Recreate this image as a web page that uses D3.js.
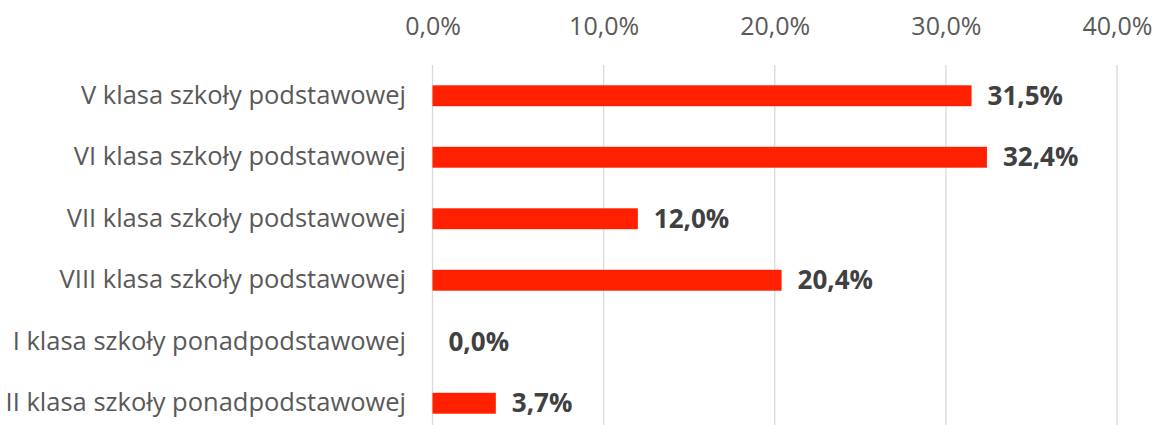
<!DOCTYPE html>
<html><head><meta charset="utf-8">
<script src="https://cdn.jsdelivr.net/npm/d3@7"></script>
<style>body{margin:0;background:#fff}</style>
</head><body>
<svg id="c" width="1155" height="425"></svg>
<script>
const categories = ["V klasa szkoły podstawowej","VI klasa szkoły podstawowej","VII klasa szkoły podstawowej","VIII klasa szkoły podstawowej","I klasa szkoły ponadpodstawowej","II klasa szkoły ponadpodstawowej"];
const values = [31.5, 32.4, 12.0, 20.4, 0.0, 3.7];
const ticks = [0, 10, 20, 30, 40];
const fmt = v => v.toFixed(1).replace(".", ",") + "%";

const svg = d3.select("#c");
const x = d3.scaleLinear().domain([0, 40]).range([432.5, 1117]);
const y = d3.scaleBand().domain(categories).range([65, 434]).paddingInner(0.66).paddingOuter(0.33);

const font = "'Open Sans', 'Noto Sans', sans-serif";

svg.append("g").selectAll("line").data(ticks).join("line")
  .attr("x1", d => x(d)).attr("x2", d => x(d))
  .attr("y1", 65).attr("y2", 425)
  .attr("stroke", "#d9d9d9").attr("stroke-width", 1.3);

const xAxis = svg.append("g").attr("transform", "translate(0,35)")
  .call(d3.axisTop(x).tickValues(ticks).tickFormat(fmt).tickSize(0).tickPadding(0));
xAxis.select(".domain").remove();
xAxis.selectAll("text").attr("fill", "#595959").style("font-family", font).style("font-size", "25px").attr("dy", "0");

const yAxis = svg.append("g").attr("transform", "translate(406,0)")
  .call(d3.axisLeft(y).tickSize(0).tickPadding(0));
yAxis.select(".domain").remove();
yAxis.selectAll("text").attr("fill", "#595959").style("font-family", font).style("font-size", "25.5px");

svg.append("g").selectAll("rect").data(values).join("rect")
  .attr("x", x(0)).attr("y", (d, i) => y(categories[i]))
  .attr("width", d => x(d) - x(0)).attr("height", y.bandwidth())
  .attr("fill", "#ff2000");

svg.append("g").selectAll("text").data(values).join("text")
  .attr("x", d => x(d) + 16).attr("y", (d, i) => y(categories[i]) + y.bandwidth() / 2)
  .attr("dy", "0.35em")
  .attr("fill", "#404040").style("font-family", font).style("font-size", "26px").style("font-weight", "bold")
  .text(fmt);
</script>
</body></html>
